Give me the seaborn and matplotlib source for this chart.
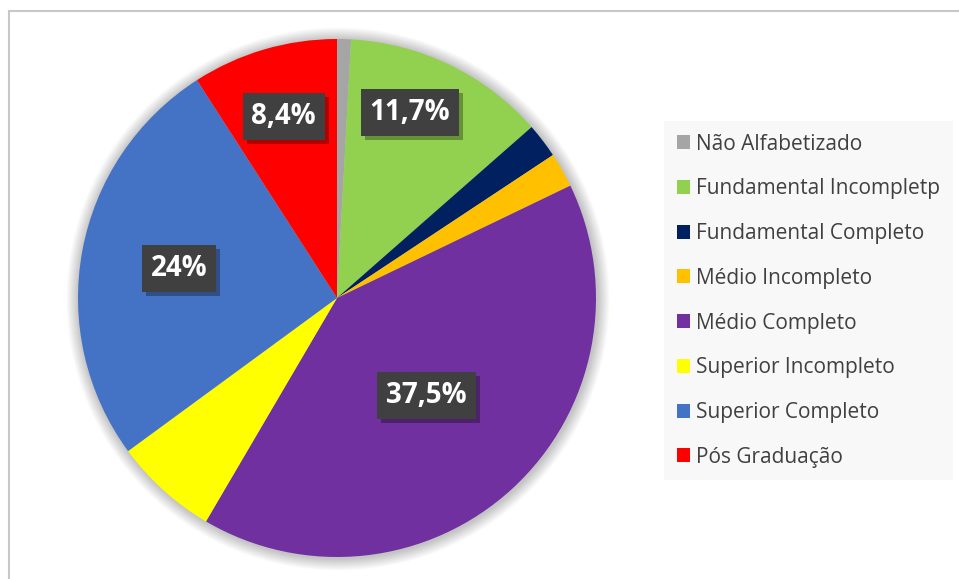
import matplotlib
matplotlib.use("Agg")
import matplotlib.pyplot as plt
import matplotlib.patches as mpatches
import matplotlib.patheffects as pe
import numpy as np
import seaborn as sns

categories = ["Não Alfabetizado", "Fundamental Incompletp", "Fundamental Completo",
              "Médio Incompleto", "Médio Completo", "Superior Incompleto",
              "Superior Completo", "Pós Graduação"]
values = [0.8, 11.7, 2.0, 2.0, 37.5, 6.0, 24.0, 8.4]
value_labels = ["", "11,7%", "", "", "37,5%", "", "24%", "8,4%"]
colors = ["#a5a5a5", "#92d050", "#002060", "#ffc000", "#7030a0", "#ffff00", "#4472c4", "#ff0000"]
# placement of the data labels: fraction of radius and angular shift (deg)
label_radius = [0.7, 0.77, 0.7, 0.7, 0.51, 0.7, 0.62, 0.73]
label_shift = [0, 4.5, 0, 0, 0, 0, 0, 0]

sns.set_theme(style="white")
plt.rcParams['font.family'] = ['Open Sans', 'DejaVu Sans']

W, H = 959, 579
fig = plt.figure(figsize=(W / 100, H / 100), dpi=100)
fig.patch.set_facecolor("white")

cx, cy, R = 337, 298, 259
ax = fig.add_axes([(cx - R) / W, (H - cy - R) / H, 2 * R / W, 2 * R / H])
ax.axis("off")

# soft shadow behind the pie
for i in range(12):
    r = 1.0 + 0.004 * (i + 1)
    ax.add_patch(mpatches.Circle((0.004, -0.004), r, facecolor="black", alpha=0.018,
                                 edgecolor="none", zorder=0, clip_on=False))

wedges, _ = ax.pie(values, colors=colors, startangle=90, counterclock=False,
                   radius=1.0, wedgeprops=dict(linewidth=0, edgecolor="none"),
                   frame=False)
for w in wedges:
    w.set_zorder(2)
ax.set_xlim(-1, 1)
ax.set_ylim(-1, 1)
ax.set_aspect("equal")

for w, lab, rr, sh in zip(wedges, value_labels, label_radius, label_shift):
    if not lab:
        continue
    ang = np.deg2rad((w.theta1 + w.theta2) / 2 + sh)
    x, y = rr * np.cos(ang), rr * np.sin(ang)
    t = ax.text(x, y, lab, ha="center", va="center", fontsize=20, fontweight="bold",
                color="white", zorder=5,
                bbox=dict(boxstyle="square,pad=0.32", facecolor="#404040", edgecolor="none"))
    t.get_bbox_patch().set_path_effects([
        pe.SimplePatchShadow(offset=(3, -3), shadow_rgbFace="black", alpha=0.3),
        pe.Normal()])

leg = fig.legend(wedges, categories, loc="upper left",
                 bbox_to_anchor=(664 / W, (H - 121) / H),
                 bbox_transform=fig.transFigure,
                 fontsize=15, frameon=True, fancybox=False,
                 handlelength=0.65, handleheight=0.65, handletextpad=0.3,
                 labelspacing=1.14, borderpad=0.6, borderaxespad=0)
frame = leg.get_frame()
frame.set_facecolor("#f8f8f8")
frame.set_edgecolor("none")
frame.set_alpha(1)
for txt in leg.get_texts():
    txt.set_color("#404040")

# chart area border (top and left visible)
fig.add_artist(mpatches.Rectangle((8.5 / W, -0.2), 1.5, (H - 11.5) / H + 0.2,
                                  transform=fig.transFigure, fill=False,
                                  edgecolor="#c8c8c8", linewidth=1.5))

fig.savefig("out.png", dpi=100, facecolor="white")
